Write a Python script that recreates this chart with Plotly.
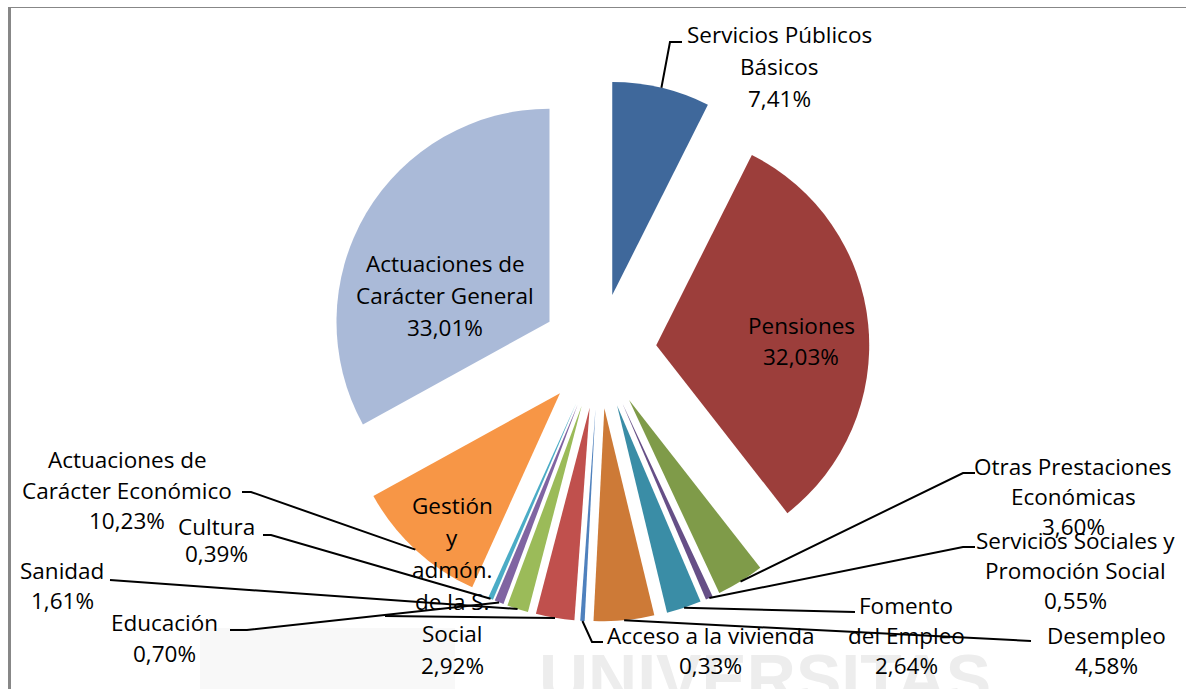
import math
import plotly.graph_objects as go

# ---------------- data ----------------
categories = [
    "Servicios Públicos Básicos", "Pensiones", "Otras Prestaciones Económicas",
    "Servicios Sociales y Promoción Social", "Fomento del Empleo", "Desempleo",
    "Acceso a la vivienda", "Gestión y admón. de la S. Social", "Sanidad",
    "Educación", "Cultura", "Actuaciones de Carácter Económico",
    "Actuaciones de Carácter General",
]
values = [7.41, 32.03, 3.60, 0.55, 2.64, 4.58, 0.33, 2.92, 1.61, 0.70, 0.39, 10.23, 33.01]
label_lines = [
    ["Servicios Públicos", "Básicos"],
    ["Pensiones"],
    ["Otras Prestaciones", "Económicas"],
    ["Servicios Sociales y", "Promoción Social"],
    ["Fomento", "del Empleo"],
    ["Desempleo"],
    ["Acceso a la vivienda"],
    ["Gestión", "y", "admón.", "de la S.", "Social"],
    ["Sanidad"],
    ["Educación"],
    ["Cultura"],
    ["Actuaciones de", "Carácter Económico"],
    ["Actuaciones de", "Carácter General"],
]

# ---------------- style / layout ----------------
colors = ["#3F689B", "#9C3E3B", "#7F9B49", "#664F87", "#3A8DA6", "#CD7A37",
          "#4F81BD", "#C0504D", "#9BBB59", "#8064A2", "#4BACC6", "#F79646", "#AABAD8"]
W, H = 1186, 689
CX, CY, R, PULL = 599, 351, 213, 0.27
FONT = "Open Sans"
FS = 22.5
TEXT_DY = -2.5

def px(x):
    return x / W

def py(y):
    return 1 - y / H

side = 2 * R * (1 + PULL)
dom_x = [px(CX - side / 2 - 20), px(CX + side / 2 + 20)]
dom_y = [py(CY + side / 2), py(CY - side / 2)]

# label placement: (center x, first line y, line step) in pixels
label_pos = [
    (779, 37, 32), (801, 328, 31), (1073, 469, 30), (1075, 543, 30),
    (906, 608, 30), (1106, 638, 30), (710, 638, 30), (452, 508, 32),
    (62, 573, 30), (164, 625, 31), (216, 529, 27), (127, 462, 30.5),
    (445, 266, 32),
]
# leader lines: points on the label side (pixels); None -> label inside slice
leader_pts = [
    [(682, 42), (670, 42)],
    None,
    [(975, 473), (963, 473)],
    [(975, 547), (963, 547)],
    [(855, 612)],
    [(1031, 641)],
    [(603, 642), (592, 642)],
    [(385, 616)],
    [(110, 580)],
    [(230, 630), (247, 630)],
    [(263, 535), (271, 535)],
    [(242, 492), (251, 492)],
    None,
]

def pct(v):
    return f"{v:.2f}".replace(".", ",") + "%"

fig = go.Figure(go.Pie(
    labels=categories, values=values, sort=False, direction="clockwise",
    rotation=0, pull=[PULL] * len(values), textinfo="none",
    marker=dict(colors=colors, line=dict(width=0)),
    domain=dict(x=dom_x, y=dom_y), showlegend=False, hoverinfo="label+percent",
))

annotations = []
# faint watermark
annotations.append(dict(x=px(765), y=py(678), xref="paper", yref="paper",
                        text="<b>UNIVERSITAS</b>", showarrow=False,
                        font=dict(family="Liberation Sans", size=68, color="#EDEDED"),
                        xanchor="center", yanchor="middle"))

shapes = [
    dict(type="rect", xref="paper", yref="paper", x0=px(200), x1=px(455), y0=py(689), y1=py(628),
         fillcolor="#F8F8F8", line=dict(width=0), layer="below"),
    dict(type="line", xref="paper", yref="paper", x0=px(9.5), x1=px(9.5), y0=py(7), y1=py(689),
         line=dict(color="#878787", width=3)),
    dict(type="line", xref="paper", yref="paper", x0=px(8), x1=px(1186), y0=py(7.5), y1=py(7.5),
         line=dict(color="#878787", width=1)),
]

total = sum(values)
cum = 0.0
for i, v in enumerate(values):
    mid = (cum + v / 2) / total * 2 * math.pi
    cum += v
    ax = CX + R * (1 + PULL) * math.sin(mid)
    ay = CY - R * (1 + PULL) * math.cos(mid)
    x0, y0, dy = label_pos[i]
    lines = label_lines[i] + [pct(v)]
    for k, t in enumerate(lines):
        annotations.append(dict(x=px(x0), y=py(y0 + k * dy + TEXT_DY), xref="paper", yref="paper",
                                text=t, showarrow=False, xanchor="center", yanchor="middle",
                                font=dict(family=FONT, size=FS, color="#000000")))
    if leader_pts[i] is not None:
        pts = leader_pts[i] + [(ax, ay)]
        path = "M " + " L ".join(f"{px(a):.5f},{py(b):.5f}" for a, b in pts)
        shapes.append(dict(type="path", xref="paper", yref="paper", path=path,
                           line=dict(color="#000000", width=2)))

fig.update_layout(
    width=W, height=H, margin=dict(l=0, r=0, t=0, b=0),
    paper_bgcolor="white", plot_bgcolor="white",
    annotations=annotations, shapes=shapes,
    font=dict(family=FONT),
)
fig.write_html("out.html", config={"displayModeBar": False},
               post_script="document.body.style.margin='0';document.body.style.overflow='hidden';")
